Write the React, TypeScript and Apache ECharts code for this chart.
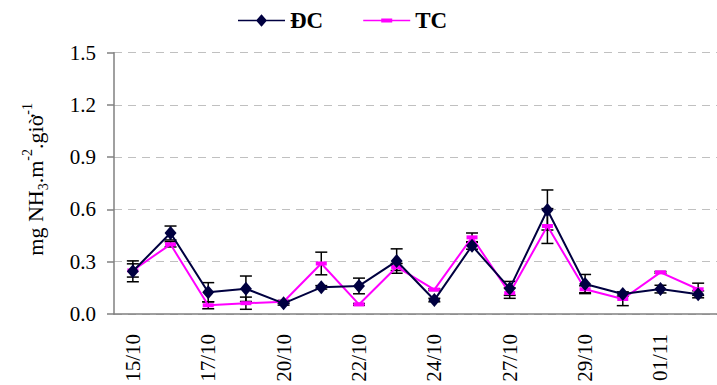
import React, { useEffect, useRef } from "react";
import * as echarts from "echarts";

const categories = ["15/10", "16/10", "17/10", "18/10", "20/10", "21/10", "22/10", "23/10", "24/10", "26/10", "27/10", "28/10", "29/10", "30/10", "01/11", "02/11"];
const dcValues = [0.245, 0.465, 0.125, 0.145, 0.061, 0.153, 0.161, 0.304, 0.08, 0.392, 0.147, 0.597, 0.172, 0.115, 0.143, 0.113];
const dcErrors = [0.06, 0.04, 0.055, 0.073, 0.01, 0.01, 0.045, 0.07, 0.01, 0.02, 0.04, 0.115, 0.055, 0.012, 0.022, 0.02];
const tcValues = [0.25, 0.4, 0.05, 0.062, 0.07, 0.29, 0.055, 0.27, 0.14, 0.44, 0.12, 0.505, 0.142, 0.086, 0.239, 0.142];
const tcErrors = [0.038, 0.015, 0.02, 0.035, 0.008, 0.065, 0.005, 0.02, 0.005, 0.025, 0.03, 0.1, 0.02, 0.038, 0.005, 0.035];
const yTicks = { min: 0, max: 1.5, interval: 0.3 };

const FONT = "Liberation Serif";

const DC_ICON = "path://M0,6.4H47V8H0Z M23.5,1L29,7.2L23.5,13.4L18,7.2Z";
const TC_ICON = "path://M0,6.4H47V8H0Z M18,5.2H29V9.2H18Z";

function errorSeries(name: string, values: number[], errors: number[]) {
  return {
    type: "custom",
    name,
    z: 1,
    data: values.map((v, i) => [i, v - errors[i], v + errors[i]]),
    renderItem: (params: any, api: any) => {
      const x = api.value(0);
      const lo = api.coord([x, api.value(1)]);
      const hi = api.coord([x, api.value(2)]);
      const hw = 6;
      const style = { stroke: "#000000", lineWidth: 1.5 };
      return {
        type: "group",
        children: [
          { type: "line", shape: { x1: lo[0], y1: lo[1], x2: hi[0], y2: hi[1] }, style },
          { type: "line", shape: { x1: lo[0] - hw, y1: lo[1], x2: lo[0] + hw, y2: lo[1] }, style },
          { type: "line", shape: { x1: hi[0] - hw, y1: hi[1], x2: hi[0] + hw, y2: hi[1] }, style },
        ],
      };
    },
  };
}

export default function App() {
  const ref = useRef<HTMLDivElement>(null);
  useEffect(() => {
    if (!ref.current) return;
    const chart = echarts.init(ref.current, undefined, { renderer: "svg" });
    chart.setOption({
      animation: false,
      backgroundColor: "#ffffff",
      textStyle: { fontFamily: FONT },
      legend: {
        left: 233,
        top: 4,
        itemWidth: 47,
        itemHeight: 14,
        itemGap: 40,
        data: [
          { name: "ĐC", icon: DC_ICON },
          { name: "TC", icon: TC_ICON },
        ],
        textStyle: { fontFamily: FONT, fontSize: 23, fontWeight: "bold", color: "#000000" },
      },
      grid: { left: 114, right: -9, top: 52.7, bottom: 71, containLabel: false },
      xAxis: {
        type: "category",
        data: categories,
        boundaryGap: true,
        axisLine: { lineStyle: { color: "#808080", width: 1.5 } },
        axisTick: { interval: 0, length: 6, lineStyle: { color: "#808080", width: 1.5 } },
        axisLabel: { interval: 1, rotate: 90, margin: 20, fontSize: 21, fontFamily: FONT, color: "#000000" },
        splitLine: { show: false },
      },
      yAxis: {
        type: "value",
        min: yTicks.min,
        max: yTicks.max,
        interval: yTicks.interval,
        axisLine: { show: true, lineStyle: { color: "#808080", width: 1.5 } },
        axisTick: { show: true, length: 7, lineStyle: { color: "#808080", width: 1.5 } },
        axisLabel: { margin: 18, fontSize: 21, fontFamily: FONT, color: "#000000", formatter: (v: number) => v.toFixed(1) },
        splitLine: { show: true, lineStyle: { color: "#c0c0c0", type: [8, 6], width: 1 } },
        name: "{m|mg NH}{sub|3}{m|.m}{sup|-2}{m|.giờ}{sup|-1}",
        nameLocation: "middle",
        nameRotate: 90,
        nameGap: 64,
        nameTextStyle: {
          fontFamily: FONT,
          color: "#000000",
          padding: [0, 0, 0, 8],
          rich: {
            m: { fontSize: 22, fontFamily: FONT, color: "#000000", lineHeight: 30 },
            sub: { fontSize: 14, fontFamily: FONT, color: "#000000", lineHeight: 14, verticalAlign: "bottom" },
            sup: { fontSize: 14, fontFamily: FONT, color: "#000000", lineHeight: 14, verticalAlign: "top" },
          },
        },
      },
      series: [
        errorSeries("errDC", dcValues, dcErrors),
        errorSeries("errTC", tcValues, tcErrors),
        {
          name: "TC",
          type: "line",
          data: tcValues,
          z: 3,
          symbol: "rect",
          symbolSize: [11, 4],
          itemStyle: { color: "#ff00ff" },
          lineStyle: { color: "#ff00ff", width: 2 },
        },
        {
          name: "ĐC",
          type: "line",
          data: dcValues,
          z: 4,
          symbol: "diamond",
          symbolSize: [12, 14],
          itemStyle: { color: "#000040" },
          lineStyle: { color: "#000040", width: 2 },
        },
      ],
    });
    return () => chart.dispose();
  }, []);
  return <div ref={ref} style={{ position: "fixed", left: 0, top: 0, width: 717, height: 385 }} />;
}
